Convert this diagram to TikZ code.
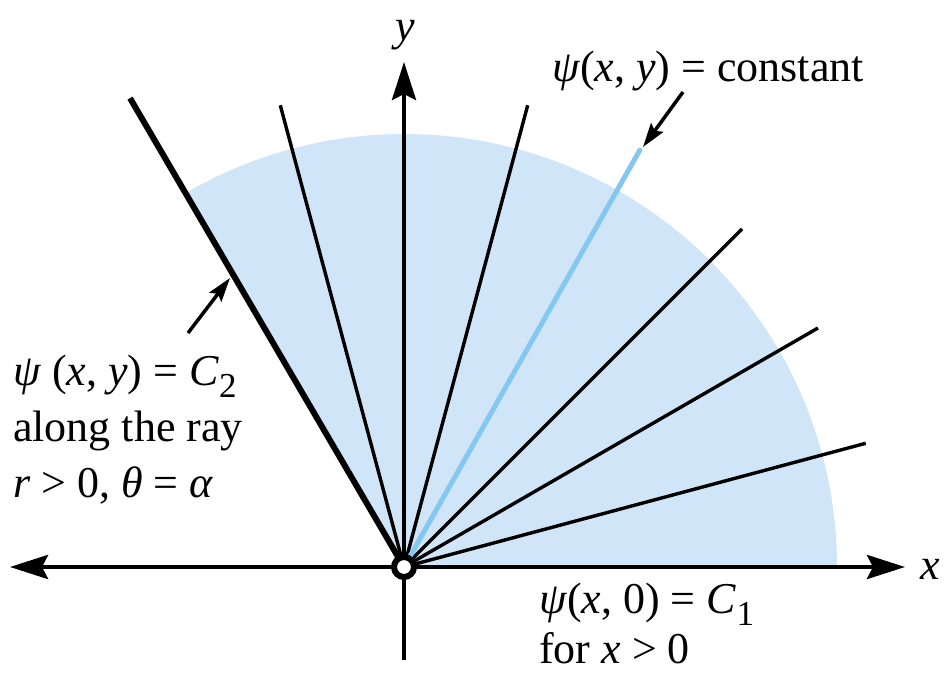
\documentclass[tikz,border=0pt]{standalone}
\usepackage{fontspec}
\setmainfont{Liberation Serif}
\usetikzlibrary{arrows.meta}
\definecolor{sectorblue}{RGB}{208,230,248}
\definecolor{rayblue}{RGB}{132,200,240}
\newcommand{\lowsub}[1]{\raisebox{-0.28em}{\fontsize{35}{35}\selectfont #1}}
\begin{document}
\begin{tikzpicture}[x=1pt,y=1pt,
  lbl/.style={font=\fontsize{44}{55}\selectfont, inner sep=0pt, anchor=base west},
  thinray/.style={line width=3.4pt},
  thickray/.style={line width=6pt},
  axisline/.style={line width=4.5pt, -{Stealth[length=38pt,width=24pt,inset=6pt]}},
  callout/.style={line width=3.5pt, -{Stealth[length=24pt,width=15pt,inset=4pt]}}]
\useasboundingbox (-404,-111) rectangle (541,567);
\coordinate (O) at (0,0);
\fill[sectorblue] (O) -- (433,0) arc[start angle=0,end angle=120,radius=433] -- cycle;
\foreach \a in {15,30,45,75,105} \draw[thinray] (O) -- (\a:478);
\draw[line width=5pt, rayblue, line cap=round] (O) -- (60.5:479);
\draw[thickray] (O) -- (120.3:543);
% axes
\coordinate (xl) at (-394,0);
\coordinate (xr) at (501,0);
\coordinate (yb) at (0,-93);
\coordinate (yt) at (0,505);
\draw[axisline, {Stealth[length=38pt,width=24pt,inset=6pt]}-{Stealth[length=38pt,width=24pt,inset=6pt]}] (xl) -- (xr);
\draw[axisline] (yb) -- (yt);
\draw[line width=6pt, fill=white] (O) circle[radius=10];
% axis labels
\node[font=\fontsize{44}{55}\selectfont\itshape, inner sep=0pt] (ylab) at (1,532) {y};
\node[font=\fontsize{44}{55}\selectfont\itshape, inner sep=0pt] (xlab) at (526,-2) {x};
% top label
\node[lbl] (top) at (148,485) {\textit{ψ}(\textit{x}, \textit{y}) = constant};
\coordinate (tA) at (279,475);
\coordinate (tB) at (239,420);
\draw[callout] (tA) -- (tB);
% left labels
\node[lbl] (l1) at (-391,182) {\textit{ψ} (\textit{x}, \textit{y}) = \textit{C}\lowsub{2}};
\node[lbl] (l2) at (-391,126) {along the ray};
\node[lbl] (l3) at (-391,70) {\textit{r} > 0, \textit{θ} = \textit{α}};
\coordinate (lA) at (-216,234);
\coordinate (lB) at (-174,289);
\draw[callout] (lA) -- (lB);
% bottom labels
\node[lbl] (b1) at (135,-46) {\textit{ψ}(\textit{x}, 0) = \textit{C}\lowsub{1}};
\node[lbl] (b2) at (135,-96) {for \textit{x} > 0};
\end{tikzpicture}
\end{document}
